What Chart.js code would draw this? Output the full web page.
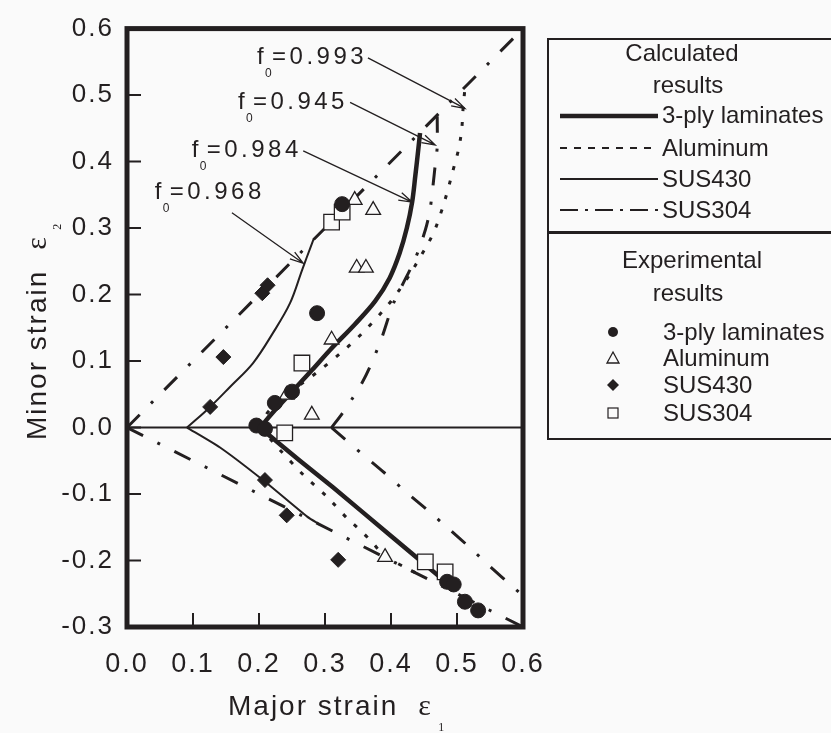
<!DOCTYPE html>
<html><head><meta charset="utf-8">
<script src="https://cdn.jsdelivr.net/npm/chart.js@4/dist/chart.umd.min.js"></script>
<style>
html,body{margin:0;padding:0;background:#fafafa;overflow:hidden;width:831px;height:733px;}
#wrap{position:relative;width:831px;height:733px;overflow:hidden;}
canvas{position:absolute;left:0;top:0;}
.lg{position:absolute;font-family:'Liberation Sans',Arial,sans-serif;font-size:24px;color:#231f20;white-space:nowrap;line-height:1;transform:translateY(-50%);}
.ctr{transform:translate(-50%,-50%);}
svg{position:absolute;left:0;top:0;overflow:visible;}
</style></head><body>
<div id="wrap">
<canvas id="c" width="831" height="733"></canvas>
<div style="position:absolute;left:547px;top:38px;width:320px;height:398px;border:2.5px solid #231f20;border-right:none;box-sizing:content-box;"></div>
<div style="position:absolute;left:547px;top:231px;width:300px;height:2.5px;background:#231f20;"></div>
<div class="lg ctr" style="left:682px;top:53px;">Calculated</div>
<div class="lg ctr" style="left:688px;top:85px;">results</div>
<div class="lg" style="left:662px;top:115px;">3-ply laminates</div>
<div class="lg" style="left:662px;top:148px;">Aluminum</div>
<div class="lg" style="left:662px;top:179px;">SUS430</div>
<div class="lg" style="left:662px;top:210px;">SUS304</div>
<div class="lg ctr" style="left:692px;top:260px;">Experimental</div>
<div class="lg ctr" style="left:688px;top:293px;">results</div>
<div class="lg" style="left:663px;top:332px;">3-ply laminates</div>
<div class="lg" style="left:663px;top:358px;">Aluminum</div>
<div class="lg" style="left:663px;top:385px;">SUS430</div>
<div class="lg" style="left:663px;top:413px;">SUS304</div>
<svg width="831" height="733">
  <line x1="560" y1="116" x2="658" y2="116" stroke="#231f20" stroke-width="4.5"/>
  <line x1="560" y1="148" x2="658" y2="148" stroke="#231f20" stroke-width="2" stroke-dasharray="7 7"/>
  <line x1="560" y1="179" x2="658" y2="179" stroke="#231f20" stroke-width="2"/>
  <line x1="560" y1="210" x2="658" y2="210" stroke="#231f20" stroke-width="2" stroke-dasharray="18 7 3 7"/>
  <circle cx="613" cy="332" r="5" fill="#231f20"/>
  <polygon points="613,352 619,363 607,363" fill="none" stroke="#231f20" stroke-width="1.3"/>
  <polygon points="613,379 619,385 613,391 607,385" fill="#231f20"/>
  <rect x="608" y="408" width="10" height="10" fill="none" stroke="#231f20" stroke-width="1.2"/>
</svg>
</div>
<script>
// ---------- data (major strain x, minor strain y) ----------
const xTicks = [0.0, 0.1, 0.2, 0.3, 0.4, 0.5, 0.6];
const yTicks = [-0.3, -0.2, -0.1, 0.0, 0.1, 0.2, 0.3, 0.4, 0.5, 0.6];

// calculated curves: upper (minor strain >= 0) and lower (minor strain <= 0) branches
const calcPly3Upper = [[0.2015,0.0],[0.225,0.027],[0.252,0.056],[0.28,0.086],[0.308,0.117],[0.345,0.155],[0.376,0.19],[0.398,0.225],[0.413,0.262],[0.424,0.30],[0.432,0.339],[0.437,0.38],[0.441,0.415],[0.444,0.443]];
const calcPly3Lower = [[0.2015,0.0],[0.262,-0.05],[0.312,-0.09],[0.40,-0.163],[0.485,-0.234]];
const calcAluminumUpper = [[0.2015,0.0],[0.215,0.025],[0.25,0.055],[0.28,0.077],[0.308,0.099],[0.341,0.127],[0.371,0.157],[0.40,0.19],[0.425,0.225],[0.444,0.256],[0.464,0.292],[0.477,0.327],[0.486,0.357],[0.494,0.387],[0.502,0.417],[0.507,0.447],[0.509,0.477],[0.512,0.51]];
const calcAluminumLower = [[0.2015,0.0],[0.232,-0.034],[0.267,-0.071],[0.303,-0.104],[0.333,-0.136],[0.353,-0.154],[0.371,-0.172],[0.39,-0.193],[0.444,-0.222]];
const calcSUS430Upper = [[0.091,0.0],[0.126,0.031],[0.156,0.061],[0.191,0.097],[0.221,0.142],[0.247,0.187],[0.265,0.236],[0.272,0.255],[0.283,0.284]];
const calcSUS430Lower = [[0.091,0.0],[0.141,-0.03],[0.206,-0.079],[0.273,-0.134],[0.292,-0.146]];
const calcSUS304Upper = [[0.31,0.0],[0.326,0.021],[0.343,0.046],[0.356,0.067],[0.368,0.091],[0.386,0.135],[0.403,0.185],[0.421,0.222],[0.436,0.252],[0.452,0.297],[0.459,0.327],[0.464,0.367],[0.467,0.395],[0.47,0.422],[0.47,0.468]];
const calcSUS304Lower = [[0.31,0.0],[0.353,-0.037],[0.39,-0.068],[0.425,-0.099],[0.455,-0.124],[0.486,-0.151],[0.52,-0.181],[0.55,-0.209],[0.585,-0.24],[0.6,-0.253]];
// strain-path reference lines
const pathEquibiaxial = [[0.0,0.0],[0.6,0.6]];
const pathUniaxial = [[0.0,0.0],[0.6,-0.3]];
const zeroLine = [[0.0,0.0],[0.6,0.0]];

// experimental points
const expPly3 = [[0.196,0.003],[0.209,-0.002],[0.224,0.037],[0.25,0.054],[0.288,0.172],[0.326,0.336],[0.485,-0.232],[0.495,-0.236],[0.512,-0.262],[0.532,-0.275]];
const expAluminum = [[0.345,0.342],[0.373,0.327],[0.348,0.24],[0.362,0.24],[0.31,0.132],[0.242,0.049],[0.28,0.019],[0.391,-0.195]];
const expSUS430 = [[0.126,0.031],[0.146,0.106],[0.205,0.202],[0.213,0.214],[0.209,-0.079],[0.242,-0.132],[0.32,-0.199]];
const expSUS304 = [[0.31,0.309],[0.326,0.324],[0.265,0.097],[0.239,-0.008],[0.452,-0.202],[0.482,-0.217]];

// f0 annotations
const f0Values = ['0.993','0.945','0.984','0.968'];
const f0TextAt = [[0.197,0.557],[0.168,0.489],[0.098,0.417],[0.042,0.353]];
const f0ArrowFrom = [[0.365,0.556],[0.338,0.489],[0.267,0.416],[0.159,0.323]];
const f0ArrowTo = [[0.512,0.48],[0.467,0.425],[0.432,0.339],[0.267,0.247]];

// ---------- chart ----------
const INK = '#231f20';
const FONT = "'Liberation Sans', Arial, sans-serif";
const pts = a => a.map(p => ({x:p[0], y:p[1]}));

function lineDs(data, width, dash, order, tension){
  return {data: pts(data), showLine:true, borderColor:INK, borderWidth:width, borderDash:dash,
          pointRadius:0, fill:false, tension:tension || 0, order:order, borderCapStyle:'butt', borderJoinStyle:'round'};
}
function markDs(data, style, radius, filled){
  return {data: pts(data), showLine:false, pointStyle:style, pointRadius:radius,
          pointBackgroundColor: filled ? INK : '#fafafa', pointBorderColor:INK,
          pointBorderWidth: filled ? 1 : 1.3, order:0};
}

const decor = {
  id:'decor',
  beforeDraw(chart){ chart.ctx.letterSpacing = '2px'; },
  afterDraw(chart){
    const ctx = chart.ctx, xs = chart.scales.x, ys = chart.scales.y, a = chart.chartArea;
    ctx.save();
    ctx.letterSpacing = '0px';
    ctx.strokeStyle = INK; ctx.fillStyle = INK;
    // inner ticks
    ctx.lineWidth = 2;
    ctx.beginPath();
    yTicks.forEach(v => { if (v > yTicks[0] && v < yTicks[yTicks.length-1]) { const py = ys.getPixelForValue(v); ctx.moveTo(a.left, py); ctx.lineTo(a.left+14, py); } });
    xTicks.forEach(v => { if (v > xTicks[0] && v < xTicks[xTicks.length-1]) { const px = xs.getPixelForValue(v); ctx.moveTo(px, a.bottom); ctx.lineTo(px, a.bottom-14); } });
    ctx.stroke();
    // frame
    ctx.lineWidth = 5;
    ctx.strokeRect(a.left, a.top, a.right-a.left, a.bottom-a.top);
    // f0 annotations
    ctx.lineWidth = 1.3;
    for (let i=0;i<f0Values.length;i++){
      const tx = xs.getPixelForValue(f0TextAt[i][0]), ty = ys.getPixelForValue(f0TextAt[i][1]);
      ctx.textBaseline = 'middle'; ctx.textAlign = 'left';
      ctx.font = '24px ' + FONT; ctx.letterSpacing = '0px';
      ctx.fillText('f', tx, ty);
      ctx.font = '12px ' + FONT;
      ctx.fillText('0', tx+8, ty+16);
      ctx.font = '24px ' + FONT; ctx.letterSpacing = '3.5px';
      ctx.fillText('=' + f0Values[i], tx+15, ty);
      ctx.letterSpacing = '0px';
      const x1 = xs.getPixelForValue(f0ArrowFrom[i][0]), y1 = ys.getPixelForValue(f0ArrowFrom[i][1]);
      const x2 = xs.getPixelForValue(f0ArrowTo[i][0]), y2 = ys.getPixelForValue(f0ArrowTo[i][1]);
      const ang = Math.atan2(y2-y1, x2-x1), L = 14, w = 0.3;
      ctx.beginPath();
      ctx.moveTo(x1,y1); ctx.lineTo(x2,y2);
      ctx.moveTo(x2 - L*Math.cos(ang-w), y2 - L*Math.sin(ang-w)); ctx.lineTo(x2,y2);
      ctx.lineTo(x2 - L*Math.cos(ang+w), y2 - L*Math.sin(ang+w));
      ctx.stroke();
    }
    // axis titles
    ctx.textBaseline = 'middle'; ctx.textAlign = 'left';
    ctx.font = '28px ' + FONT; ctx.letterSpacing = '2px';
    const xt = 'Major strain';
    ctx.fillText(xt, 228, 707);
    const wx = ctx.measureText(xt).width;
    ctx.letterSpacing = '0px';
    ctx.font = "30px 'Liberation Serif', serif";
    ctx.fillText('\u03b5', 228 + wx + 20, 707);
    ctx.font = "12px 'Liberation Serif', serif";
    ctx.fillText('1', 228 + wx + 40, 728);
    ctx.save();
    ctx.translate(38, 440); ctx.rotate(-Math.PI/2);
    ctx.font = '28px ' + FONT; ctx.letterSpacing = '2px';
    const yt = 'Minor strain';
    ctx.fillText(yt, 0, 0);
    const wy = ctx.measureText(yt).width;
    ctx.letterSpacing = '0px';
    ctx.font = "30px 'Liberation Serif', serif";
    ctx.fillText('\u03b5', wy + 20, 0);
    ctx.font = "12px 'Liberation Serif', serif";
    ctx.fillText('2', wy + 40, 20);
    ctx.restore();
    ctx.restore();
    ctx.letterSpacing = '0px';
  }
};

const DASHDOT = [18,16,3,16];
new Chart(document.getElementById('c'), {
  type:'scatter',
  data:{ datasets:[
    markDs(expPly3, 'circle', 7.5, true),
    markDs(expAluminum, 'triangle', 8.5, false),
    markDs(expSUS430, 'rectRot', 7.5, true),
    markDs(expSUS304, 'rect', 11, false),
    lineDs(calcPly3Upper, 4.5, [], 1, 0.35),
    lineDs(calcPly3Lower, 4.5, [], 1, 0.2),
    lineDs(calcAluminumUpper, 3, [4,11], 1, 0.35),
    lineDs(calcAluminumLower, 3, [4,11], 1, 0.2),
    lineDs(calcSUS430Upper, 2, [], 1, 0.35),
    lineDs(calcSUS430Lower, 2, [], 1, 0.2),
    lineDs(calcSUS304Upper, 3, DASHDOT, 1, 0.3),
    lineDs(calcSUS304Lower, 3, DASHDOT, 1, 0.2),
    lineDs(pathEquibiaxial, 3, DASHDOT, 2),
    lineDs(pathUniaxial, 3, DASHDOT, 2),
    lineDs(zeroLine, 2, [], 2)
  ]},
  options:{
    responsive:false, animation:false, devicePixelRatio:1,
    layout:{padding:{top:28, right:308, left:0, bottom:0}},
    plugins:{legend:{display:false}, tooltip:{enabled:false}},
    scales:{
      x:{type:'linear', min:0, max:0.6,
         afterBuildTicks: s => { s.ticks = xTicks.map(v => ({value:v})); },
         afterFit: s => { s.height = 106; },
         grid:{display:false, drawTicks:false}, border:{display:false},
         ticks:{padding:21, color:INK, font:{family:FONT, size:27}, callback: v => Number(v).toFixed(1)}},
      y:{type:'linear', min:-0.3, max:0.6,
         afterBuildTicks: s => { s.ticks = yTicks.map(v => ({value:v})); },
         afterFit: s => { s.width = 127; },
         grid:{display:false, drawTicks:false}, border:{display:false},
         ticks:{padding:13, color:INK, font:{family:FONT, size:26}, callback: v => Number(v).toFixed(1)}}
    }
  },
  plugins:[decor]
});
</script>
</body></html>
